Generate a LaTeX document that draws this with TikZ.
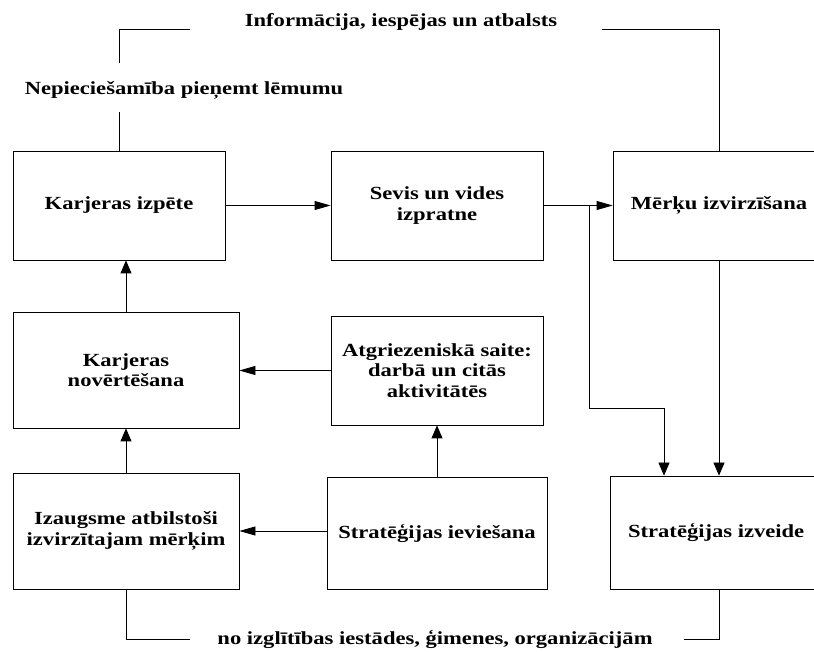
\documentclass[tikz,border=0pt]{standalone}
\usepackage{fontspec}
\setmainfont{Liberation Serif}[FakeStretch=1.22]
\usetikzlibrary{arrows.meta}

\begin{document}
\begin{tikzpicture}[x=1pt, y=1pt,
  every node/.style={font=\bfseries\fontsize{18.5}{20.5}\selectfont, align=center},
  box/.style={draw, line width=0.8pt, inner sep=0pt},
  link/.style={line width=0.8pt},
  harrow/.style={link, -{Triangle[length=16pt,width=9pt]}},
  varrow/.style={link, -{Triangle[length=13pt,width=11pt]}}]
\useasboundingbox (0,0) rectangle (814,651);
\clip (0,0) rectangle (814,651);

% Boxes (name, centre, size, text)
\foreach \n/\x/\y/\w/\h/\t in {
  A/119/445.5/212/109/{Karjeras izpēte},
  B/437/445.5/212/109/{Sevis un vides\\izpratne},
  C/719/445.5/212/109/{Mērķu izvirzīšana},
  Kn/126/281/226/116/{Karjeras\\novērtēšana},
  At/437/280.5/212/109/{Atgriezeniskā saite:\\darbā un citās\\aktivitātēs},
  Iz/126/120/226/116/{Izaugsme atbilstoši\\izvirzītajam mērķim},
  Si/437/118/220/112/{Stratēģijas ieviešana},
  Sz/719/118.5/218/113/{Stratēģijas izveide}
} {
  \node[box, minimum width=\w pt, minimum height=\h pt] (\n) at (\x,\y) {\t};
}

% Labels on the outer lines
\node (info) at (401,629) {Informācija, iespējas un atbalsts};
\node (need) at (184,561) {Nepieciešamība pieņemt lēmumu};
\node (src) at (435,12) {no izglītības iestādes, ģimenes, organizācijām};

\coordinate (needB) at (119,539);
\coordinate (needT) at (119,588);
\coordinate (infoL) at (190,622);
\coordinate (infoR) at (602,622);
\coordinate (srcL) at (190,12);
\coordinate (srcR) at (684,12);
\coordinate (fork) at (589,445.5);
\coordinate (bend) at (589,243);

% Outer lines
\draw[link] (A.north) -- (needB);
\draw[link] (needT) |- (infoL);
\draw[link] (infoR) -| (C.north);
\draw[link] (Iz.south) |- (srcL);
\draw[link] (Sz.south) |- (srcR);

% Arrows
\draw[harrow] (A) -- (B);
\draw[harrow] (B) -- (C);
\draw[varrow] (fork) -- (bend) -| ([xshift=-55pt]Sz.north);
\draw[varrow] (C.south) -- (C.south |- Sz.north);
\draw[varrow] (Kn.north) -- (Kn.north |- A.south);
\draw[varrow] (Iz) -- (Kn);
\draw[harrow] (At.west) -- (At.west -| Kn.east);
\draw[varrow] (Si) -- (At);
\draw[harrow] (Si.west |- Iz.east) -- (Iz.east);
\end{tikzpicture}
\end{document}
